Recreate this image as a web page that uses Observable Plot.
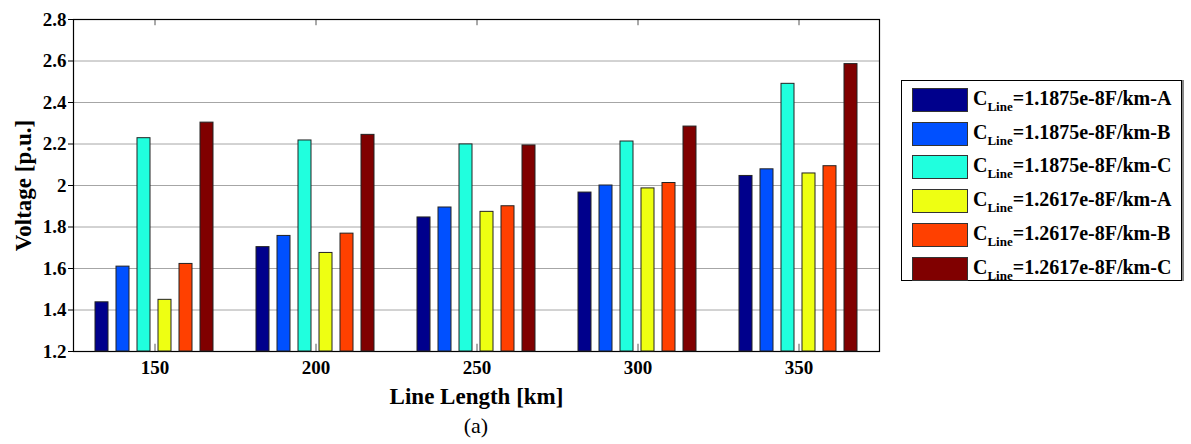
<!DOCTYPE html>
<html>
<head>
<meta charset="utf-8">
<script src="https://cdn.jsdelivr.net/npm/d3@7"></script>
<script src="https://cdn.jsdelivr.net/npm/@observablehq/plot@0.6"></script>
<style>
  html, body { margin: 0; padding: 0; background: #fff; }
  #wrap { position: relative; width: 1191px; height: 444px; font-family: "Liberation Serif", "Times New Roman", serif; }
  #wrap svg { position: absolute; left: 0; top: 0; }
  #caption { position: absolute; left: 0; width: 952px; top: 413px; text-align: center; font-size: 22px; color: #000; }
  #legend { position: absolute; left: 901px; top: 80px; width: 279px; height: 199px; border: 1px solid #000; background: #fff; box-shadow: 2px 0 0 #888; }
  .row { position: absolute; left: 10px; height: 24px; white-space: nowrap; }
  .sw { position: absolute; left: 0; top: 0; width: 54px; height: 22px; border: 1px solid #333; }
  .lab { position: absolute; left: 61px; top: -1px; font-weight: bold; font-size: 20px; line-height: 22px; color: #000; }
  .lab sub { font-size: 13px; vertical-align: -6px; line-height: 0; }
</style>
</head>
<body>
<div id="wrap">
  <div id="caption">(a)</div>
  <div id="legend"></div>
</div>
<script>
// ---- data ----
const lengths = ["150", "200", "250", "300", "350"];
const series = ["1.1875e-8F/km-A", "1.1875e-8F/km-B", "1.1875e-8F/km-C",
                "1.2617e-8F/km-A", "1.2617e-8F/km-B", "1.2617e-8F/km-C"];
const colors = ["#00008C", "#0050FF", "#20FFDE", "#EEFF12", "#FF4000", "#800000"];
const s1875A = [1.437, 1.703, 1.846, 1.966, 2.046];
const s1875B = [1.609, 1.757, 1.894, 2.000, 2.078];
const s1875C = [2.228, 2.217, 2.198, 2.212, 2.490];
const s2617A = [1.449, 1.675, 1.873, 1.986, 2.058];
const s2617B = [1.622, 1.768, 1.900, 2.012, 2.093];
const s2617C = [2.303, 2.244, 2.193, 2.284, 2.585];
const yTicks = [1.2, 1.4, 1.6, 1.8, 2, 2.2, 2.4, 2.6, 2.8];
const yMin = 1.2, yMax = 2.8;
const xLabel = "Line Length [km]";
const yLabel = "Voltage [p.u.]";

const allSeries = [s1875A, s1875B, s1875C, s2617A, s2617B, s2617C];
const rows = [];
lengths.forEach((L, i) => series.forEach((s, j) => rows.push({length: L, series: s, value: allSeries[j][i]})));

const W = 890, H = 410;
const margins = {marginLeft: 73, marginRight: 11, marginTop: 19, marginBottom: 59};
const font = {fontFamily: "'Liberation Serif', 'Times New Roman', serif", fontSize: "19px", fontWeight: "bold", background: "transparent", overflow: "visible", color: "#000"};

// background plot: grid, frame, axes
const base = Plot.plot({
  width: W, height: H, ...margins,
  style: font,
  x: {type: "band", domain: lengths, padding: 0, label: null, tickSize: 0, tickPadding: 9},
  y: {domain: [yMin, yMax], ticks: yTicks, tickFormat: d => String(d), label: null, tickSize: 5, tickPadding: 2},
  marks: [
    Plot.ruleY(yTicks.slice(1, -1), {stroke: "#a6a6a6", strokeWidth: 1}),
    Plot.ruleX(lengths, {x: d => d, y1: yMin, y2: yMin + 0.035, stroke: "#555"}),
    Plot.ruleX(lengths, {x: d => d, y1: yMax - 0.03, y2: yMax, stroke: "#555"}),
    Plot.frame({stroke: "#000", strokeWidth: 1.2}),
    Plot.text([xLabel], {frameAnchor: "bottom", lineAnchor: "middle", textAnchor: "middle", dy: 45, text: d => d, fontSize: 23, fontWeight: "bold"}),
    Plot.text([yLabel], {frameAnchor: "left", lineAnchor: "middle", textAnchor: "middle", dx: -50, rotate: -90, text: d => d, fontSize: 23, fontWeight: "bold"})
  ]
});

// bars plot (faceted) overlay
const bars = Plot.plot({
  width: W, height: H, ...margins,
  style: {background: "transparent"},
  facet: {data: rows, x: "length"},
  fx: {type: "band", domain: lengths, padding: 0, axis: null},
  x: {domain: series, paddingInner: 0.38, paddingOuter: 0.95, axis: null},
  y: {domain: [yMin, yMax], axis: null},
  color: {domain: series, range: colors},
  marks: [
    Plot.barY(rows, {x: "series", y1: yMin, y2: "value", fill: "series", stroke: "#222", strokeWidth: 1})
  ]
});

const wrap = document.getElementById("wrap");
wrap.insertBefore(bars, wrap.firstChild);
wrap.insertBefore(base, wrap.firstChild);

// legend
const legend = document.getElementById("legend");
series.forEach((s, i) => {
  const row = document.createElement("div");
  row.className = "row";
  row.style.top = (7 + i * 33.7) + "px";
  row.innerHTML = `<div class="sw" style="background:${colors[i]}"></div><div class="lab">C<sub>Line</sub>=${s}</div>`;
  legend.appendChild(row);
});
</script>
</body>
</html>
